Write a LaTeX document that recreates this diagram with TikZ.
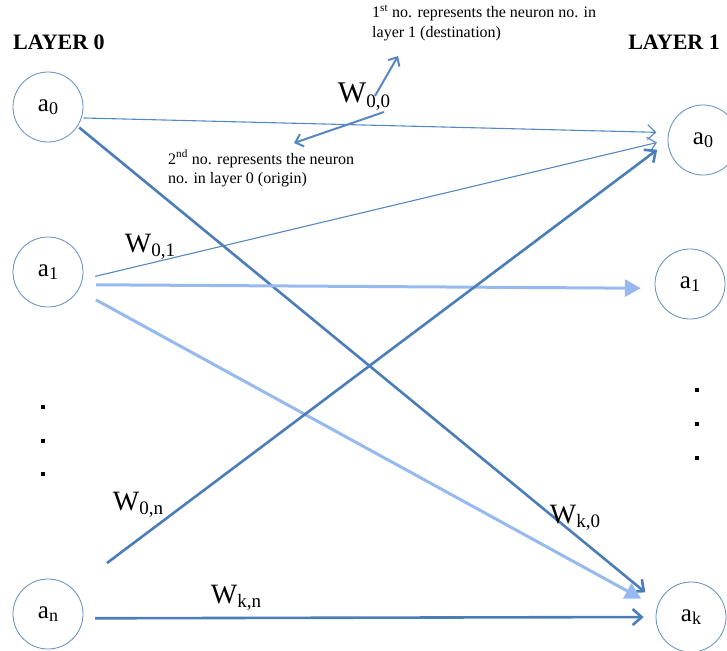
\documentclass[tikz,border=0pt]{standalone}
\usepackage{fontspec}
\setmainfont{Liberation Serif}
\usetikzlibrary{arrows.meta}
\definecolor{ringblue}{RGB}{95,140,195}
\definecolor{thinblue}{RGB}{85,135,195}
\definecolor{deepblue}{RGB}{75,125,185}
\definecolor{paleblue}{RGB}{150,185,240}
\newcommand{\act}[1]{a\raisebox{-0.25ex}{\fontsize{18}{18}\selectfont #1}}
\newcommand{\wname}[1]{W\raisebox{-0.35ex}{\fontsize{19}{19}\selectfont #1}}
\tikzset{
  neuron/.style={circle,draw=ringblue,line width=0.8pt,minimum size=70pt,inner sep=0pt,
    font=\fontsize{25}{25}\selectfont},
  wthin/.style={thinblue,line width=1.1pt,-{Straight Barb[length=8pt,width=15pt]}},
  wthick/.style={deepblue,line width=2.6pt,-{Straight Barb[length=9pt,width=16pt]}},
  wpale/.style={paleblue,line width=3pt,-{Triangle[length=16pt,width=17pt]}},
  pointer/.style={thinblue,line width=2pt,-{Straight Barb[length=7pt,width=13pt]}},
  wlabel/.style={inner sep=0pt,font=\fontsize{28}{28}\selectfont},
  note/.style={inner sep=0pt,align=left,font=\fontsize{16}{19.5}\selectfont},
  layer/.style={inner sep=0pt,font=\fontsize{22}{22}\selectfont\bfseries}
}
\begin{document}
\begin{tikzpicture}[x=1pt,y=-1pt]
  \useasboundingbox (0,0) rectangle (727,650);
  % Layer headings
  \node[layer,anchor=west] (lay0) at (13,42) {LAYER 0};
  \node[layer,anchor=east] (lay1) at (720,42) {LAYER 1};
  % Layer 0 neurons
  \node[neuron] (l0) at (48,107) {\act{0}};
  \node[neuron] (l1) at (48,272) {\act{1}};
  \node[neuron] (ln) at (48,614) {\act{n}};
  % Layer 1 neurons
  \node[neuron] (r0) at (703,140) {\act{0}};
  \node[neuron] (r1) at (690,284) {\act{1}};
  \node[neuron] (rk) at (691,617) {\act{k}};
  % elided neurons
  \foreach \y in {405,439,472} \fill (41,\y) rectangle +(4,4);
  \foreach \y in {388,422,456} \fill (695,\y) rectangle +(4,4);
  % Weights
  \coordinate (w0nfrom) at (107,563);
  \draw[wthin,shorten <=2pt,shorten >=12pt] (l0.-18) -- (r0.168);
  \draw[wthick,shorten <=2pt,shorten >=17pt] (l0.-33) -- (rk.157);
  \draw[wthin,shorten <=13pt,shorten >=11pt] (l1.-12) -- (r0.180);
  \draw[wpale,shorten <=15pt,shorten >=14pt] (l1.-21) -- (r1.187);
  \draw[wpale,shorten <=20pt,shorten >=18pt] (l1.-31) -- (rk.164);
  \draw[wthick,shorten >=13pt] (w0nfrom) -- (r0.183);
  \draw[wthick,shorten <=12pt,shorten >=12pt] (ln.-7) -- (rk.180);
  % Weight labels
  \node[wlabel,font=\fontsize{30}{30}\selectfont] (w00) at (364,97) {\wname{0,0}};
  \node[wlabel] (w01) at (150,247) {\wname{0,1}};
  \node[wlabel] (w0n) at (138,505) {\wname{0,n}};
  \node[wlabel] (wkn) at (236,598) {\wname{k,n}};
  \node[wlabel] (wk0) at (575,518) {\wname{k,0}};
  % Index notes
  \node[note,anchor=north west] (note1) at (372,5)
    {1\textsuperscript{st} no. represents the neuron no. in\\layer 1 (destination)};
  \node[note,anchor=north west] (note2) at (168,150)
    {2\textsuperscript{nd} no. represents the neuron\\no. in layer 0 (origin)};
  \coordinate (up0) at (375,96);
  \coordinate (up1) at (398,56);
  \coordinate (dn0) at (384,112);
  \coordinate (dn1) at (294,143);
  \draw[pointer] (up0) -- (up1);
  \draw[pointer] (dn0) -- (dn1);
\end{tikzpicture}
\end{document}
